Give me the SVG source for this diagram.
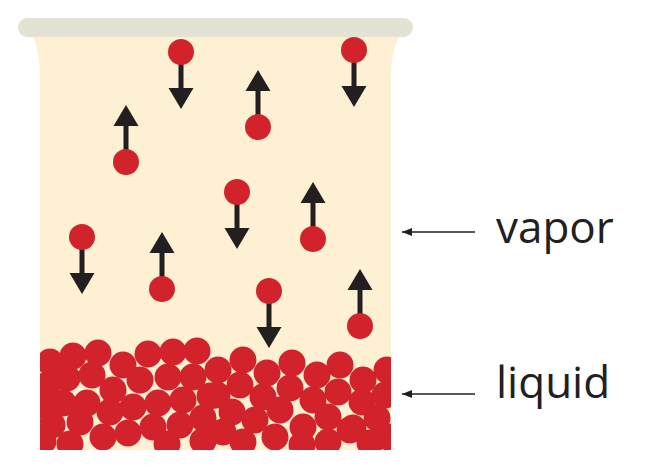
<svg xmlns="http://www.w3.org/2000/svg" xmlns:xlink="http://www.w3.org/1999/xlink" width="658" height="471" viewBox="0 0 658 471">
<style>
.mol{fill:#d2222b}
.arr{fill:#231f20}
.liq circle{fill:#d2222b}
.lbl{font-family:"Open Sans","Noto Sans","Liberation Sans",sans-serif;font-size:44px;fill:#231f20}
.lead{stroke:#231f20;stroke-width:1.6;fill:none}
</style>
<defs>
<g id="down"><rect class="arr" x="-2.5" y="0" width="5" height="38"/><polygon class="arr" points="-12.5,36 12.5,36 0,57"/><circle class="mol" cx="0" cy="0" r="13"/></g>
<g id="up"><rect class="arr" x="-2.5" y="-38" width="5" height="38"/><polygon class="arr" points="-12.5,-36 12.5,-36 0,-57"/><circle class="mol" cx="0" cy="0" r="13"/></g>
<clipPath id="bodyclip"><rect x="40" y="320" width="351" height="130"/></clipPath>
<marker id="ah" viewBox="0 0 10 8" refX="10" refY="4" markerWidth="10" markerHeight="8" markerUnits="userSpaceOnUse" orient="auto"><polygon points="0,0 10,4 0,8" fill="#231f20"/></marker>
</defs>
<rect width="658" height="471" fill="#ffffff"/>
<g id="beaker">
<path d="M32,37 C37,42 40,60 40,82 L40,450 L391,450 L391,82 C391,60 394,42 400,37 Z" fill="#fdf0d3"/>
<rect x="18" y="18" width="395" height="19" rx="9.5" fill="#e4e2d3"/>
</g>
<g id="liquid" class="liq" clip-path="url(#bodyclip)">
<circle cx="50" cy="362" r="13.5"/><circle cx="73" cy="356" r="13.5"/><circle cx="98" cy="353" r="13.5"/><circle cx="123" cy="365" r="13.5"/><circle cx="148" cy="354" r="13.5"/><circle cx="173" cy="352" r="13.5"/><circle cx="197" cy="351" r="13.5"/><circle cx="218" cy="370" r="13.5"/>
<circle cx="47" cy="385" r="13.5"/><circle cx="67" cy="378" r="13.5"/><circle cx="92" cy="375" r="13.5"/><circle cx="113" cy="390" r="13.5"/><circle cx="140" cy="380" r="13.5"/><circle cx="168" cy="377" r="13.5"/><circle cx="193" cy="377" r="13.5"/>
<circle cx="44" cy="405" r="13.5"/><circle cx="63" cy="403" r="13.5"/><circle cx="87" cy="403" r="13.5"/><circle cx="110" cy="412" r="13.5"/><circle cx="133" cy="407" r="13.5"/><circle cx="158" cy="403" r="13.5"/><circle cx="183" cy="400" r="13.5"/><circle cx="210" cy="396" r="13.5"/>
<circle cx="52" cy="425" r="13.5"/><circle cx="80" cy="422" r="13.5"/><circle cx="103" cy="437" r="13.5"/><circle cx="128" cy="433" r="13.5"/><circle cx="153" cy="427" r="13.5"/><circle cx="180" cy="425" r="13.5"/><circle cx="203" cy="418" r="13.5"/>
<circle cx="43" cy="441" r="13.5"/><circle cx="70" cy="444" r="13.5"/><circle cx="167" cy="444" r="13.5"/><circle cx="203" cy="441" r="13.5"/>
<circle cx="243" cy="360" r="13.5"/><circle cx="267" cy="373" r="13.5"/><circle cx="292" cy="363" r="13.5"/><circle cx="317" cy="375" r="13.5"/><circle cx="340" cy="365" r="13.5"/><circle cx="363" cy="380" r="13.5"/><circle cx="387" cy="370" r="13.5"/>
<circle cx="217" cy="395" r="13.5"/><circle cx="240" cy="385" r="13.5"/><circle cx="263" cy="397" r="13.5"/><circle cx="290" cy="388" r="13.5"/><circle cx="313" cy="400" r="13.5"/><circle cx="338" cy="392" r="13.5"/><circle cx="362" cy="402" r="13.5"/><circle cx="385" cy="395" r="13.5"/>
<circle cx="232" cy="412" r="13.5"/><circle cx="255" cy="420" r="13.5"/><circle cx="280" cy="410" r="13.5"/><circle cx="303" cy="427" r="13.5"/><circle cx="328" cy="417" r="13.5"/><circle cx="353" cy="428" r="13.5"/><circle cx="377" cy="418" r="13.5"/>
<circle cx="223" cy="432" r="13.5"/><circle cx="243" cy="442" r="13.5"/><circle cx="275" cy="437" r="13.5"/><circle cx="302" cy="445" r="13.5"/><circle cx="328" cy="442" r="13.5"/><circle cx="350" cy="430" r="13.5"/><circle cx="370" cy="443" r="13.5"/><circle cx="388" cy="437" r="13.5"/>
</g>
<g id="mol1"><use xlink:href="#down" href="#down" x="181" y="52"/></g>
<g id="mol2"><use xlink:href="#down" href="#down" x="354" y="50"/></g>
<g id="mol3"><use xlink:href="#up" href="#up" x="258" y="127"/></g>
<g id="mol4"><use xlink:href="#up" href="#up" x="126" y="162"/></g>
<g id="mol5"><use xlink:href="#down" href="#down" x="237" y="192"/></g>
<g id="mol6"><use xlink:href="#up" href="#up" x="313" y="239"/></g>
<g id="mol7"><use xlink:href="#down" href="#down" x="82" y="237"/></g>
<g id="mol8"><use xlink:href="#up" href="#up" x="162" y="289"/></g>
<g id="mol9"><use xlink:href="#down" href="#down" x="269" y="291"/></g>
<g id="mol10"><use xlink:href="#up" href="#up" x="360" y="326"/></g>
<g id="connectors">
<line class="lead" x1="475" y1="232" x2="402" y2="232" marker-end="url(#ah)"/>
<line class="lead" x1="475" y1="394" x2="402" y2="394" marker-end="url(#ah)"/>
</g>
<g id="label-vapor"><text class="lbl" x="496" y="243">vapor</text></g>
<g id="label-liquid"><text class="lbl" x="496" y="398">liquid</text></g>
</svg>
